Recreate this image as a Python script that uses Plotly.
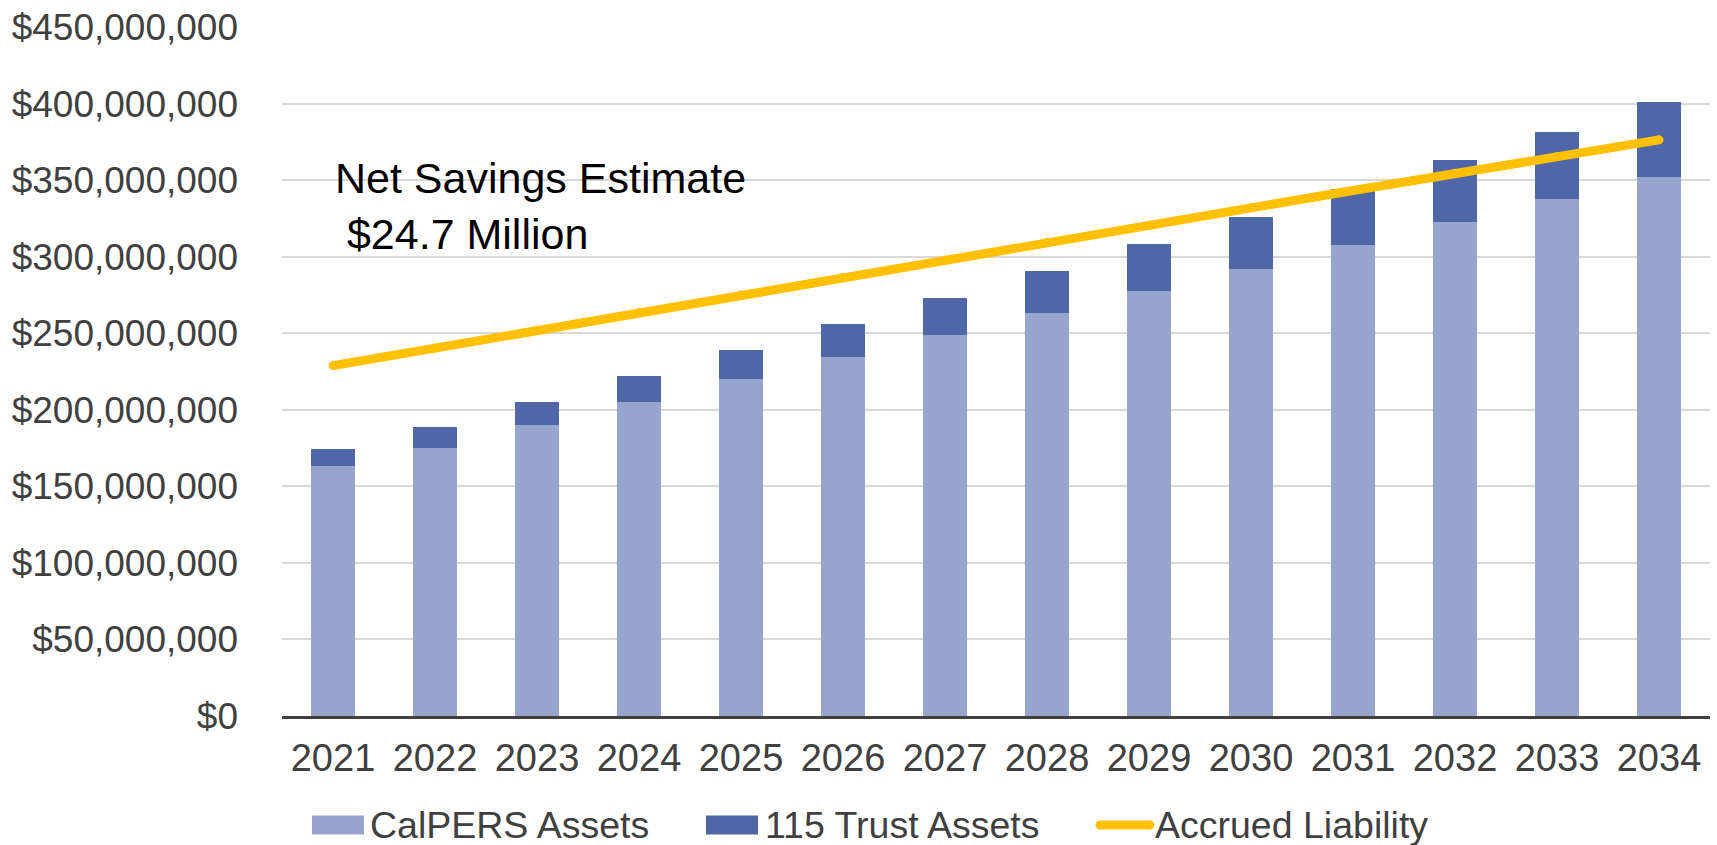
import plotly.graph_objects as go

# Projected pension funding, fiscal years 2021-2034 (US dollars)
years = ["2021", "2022", "2023", "2024", "2025", "2026", "2027",
         "2028", "2029", "2030", "2031", "2032", "2033", "2034"]
calpers_assets = [163_100_000, 175_200_000, 190_200_000, 205_000_000, 219_900_000,
                  234_700_000, 249_000_000, 263_400_000, 277_700_000, 292_200_000,
                  307_700_000, 322_400_000, 337_500_000, 352_000_000]
trust_115_assets = [11_400_000, 13_500_000, 14_900_000, 17_000_000, 19_300_000,
                    21_600_000, 24_300_000, 27_100_000, 30_500_000, 33_700_000,
                    36_300_000, 40_500_000, 44_100_000, 49_000_000]
accrued_liability = [228_800_000, 240_400_000, 251_900_000, 263_500_000, 274_900_000,
                     286_400_000, 297_800_000, 309_200_000, 320_500_000, 331_900_000,
                     343_200_000, 354_400_000, 365_500_000, 376_300_000]
net_savings_label = "Net Savings Estimate<br>\u00a0$24.7 Million"

LIGHT = "#95A5CC"
DARK = "#4F67A6"
GOLD = "#FFC000"
TEXT = "#404040"
FONT = "Liberation Sans, Arial, sans-serif"

W, H = 1717, 845
ML, MR, MT, MB = 282, 7, 24, 129
PW, PH = W - ML - MR, H - MT - MB


def px_x(p):
    return (p - ML) / PW


def px_y(p):
    return (H - MB - p) / PH


fig = go.Figure()
fig.add_trace(go.Bar(x=years, y=calpers_assets, name="CalPERS Assets",
                     marker=dict(color=LIGHT, line=dict(width=0))))
fig.add_trace(go.Bar(x=years, y=trust_115_assets, name="115 Trust Assets",
                     marker=dict(color=DARK, line=dict(width=0))))
fig.add_trace(go.Scatter(x=years, y=accrued_liability, name="Accrued Liability",
                         mode="lines+markers",
                         line=dict(color=GOLD, width=9),
                         marker=dict(color=GOLD, size=9, line=dict(width=0))))

fig.update_layout(
    width=W, height=H,
    margin=dict(l=ML, r=MR, t=MT, b=MB, pad=0),
    barmode="stack", bargap=0.57,
    plot_bgcolor="white", paper_bgcolor="white",
    showlegend=False,
    font=dict(family=FONT, size=37, color=TEXT),
)
fig.update_yaxes(
    range=[0, 450_000_000], dtick=50_000_000,
    tickprefix="$", tickformat=",.0f",
    showgrid=True, gridcolor="#D9D9D9", gridwidth=1.5,
    zeroline=False, showline=False,
    ticks="", ticklabelstandoff=43,
    tickfont=dict(family=FONT, size=37, color=TEXT),
)
fig.update_xaxes(
    type="category", range=[-0.5, len(years) - 0.5],
    showline=True, linecolor=TEXT, linewidth=2.5,
    showgrid=False, ticks="", ticklabelstandoff=7,
    tickfont=dict(family=FONT, size=38, color=TEXT),
)

# Callout text
fig.add_annotation(
    text=net_savings_label, xref="paper", yref="paper",
    x=px_x(333), y=px_y(204), xanchor="left", yanchor="middle",
    align="left", showarrow=False,
    font=dict(family=FONT, size=43, color="black"),
)

# Legend row drawn beneath the axis
legend_items = [
    ("rect", LIGHT, 312, 364, "CalPERS Assets", 368),
    ("rect", DARK, 706, 758, "115 Trust Assets", 763),
    ("line", GOLD, 1100, 1150, "Accrued Liability", 1153),
]
ly = 825.5
for kind, color, x0, x1, label, tx in legend_items:
    if kind == "rect":
        fig.add_shape(type="rect", xref="paper", yref="paper",
                      x0=px_x(x0), x1=px_x(x1), y0=px_y(ly - 9.5), y1=px_y(ly + 9.5),
                      fillcolor=color, line=dict(width=0), layer="above")
    else:
        fig.add_shape(type="line", xref="paper", yref="paper",
                      x0=px_x(x0), x1=px_x(x1), y0=px_y(ly), y1=px_y(ly),
                      line=dict(color=color, width=9), layer="above")
        for cx in (x0, x1):
            fig.add_shape(type="circle", xref="paper", yref="paper",
                          x0=px_x(cx - 4.5), x1=px_x(cx + 4.5),
                          y0=px_y(ly + 4.5), y1=px_y(ly - 4.5),
                          fillcolor=color, line=dict(width=0), layer="above")
    fig.add_annotation(text=label, xref="paper", yref="paper",
                       x=px_x(tx), y=px_y(ly), xanchor="left", yanchor="middle",
                       showarrow=False,
                       font=dict(family=FONT, size=37.5, color=TEXT))

fig.write_html("out.html")
